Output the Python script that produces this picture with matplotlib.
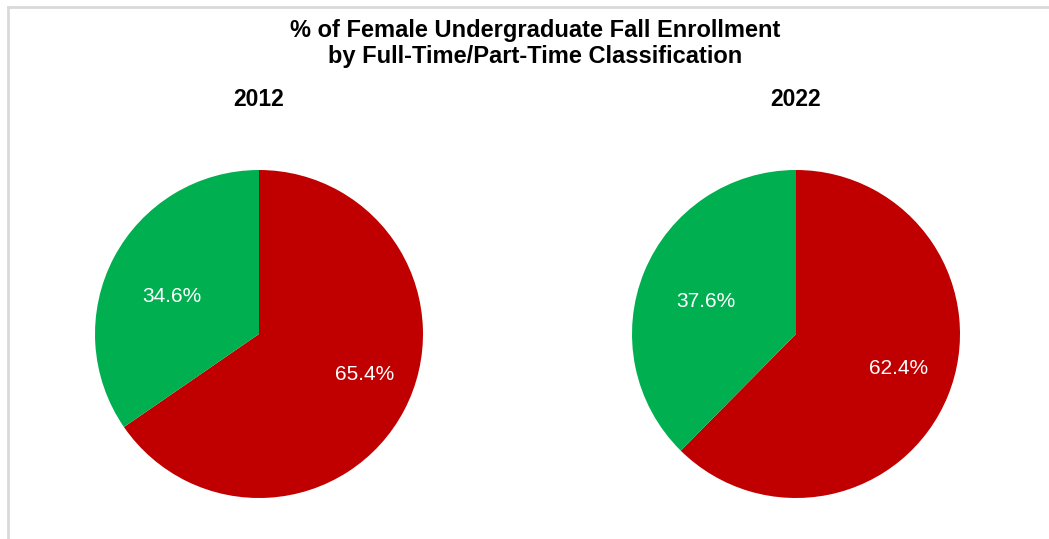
import matplotlib
matplotlib.use("Agg")
import matplotlib.pyplot as plt
from matplotlib.lines import Line2D

# data
years = ["2012", "2022"]
full_time = [65.4, 62.4]
part_time = [34.6, 37.6]
colors = ["#C00000", "#00B050"]

# label offsets (in pie radii) for full-time / part-time slices
label_pos = [
    [(0.646, -0.244), (-0.530, 0.226)],
    [(0.628, -0.213), (-0.549, 0.201)],
]

plt.rcParams["font.family"] = ["Liberation Sans", "DejaVu Sans"]

W, H = 1049, 539
fig = plt.figure(figsize=(W / 100, H / 100), dpi=100)

# light grey frame (top and left edges visible)
fig.add_artist(Line2D([7.5 / W, 7.5 / W], [0, 1 - 6.5 / H], color="#d9d9d9", lw=2,
                      transform=fig.transFigure))
fig.add_artist(Line2D([7.5 / W, 1], [1 - 6.5 / H, 1 - 6.5 / H], color="#d9d9d9", lw=2,
                      transform=fig.transFigure))

fig.text(535 / W, 1 - 30 / H, "% of Female Undergraduate Fall Enrollment",
         ha="center", va="center", fontsize=17, fontweight="bold")
fig.text(535 / W, 1 - 57 / H, "by Full-Time/Part-Time Classification",
         ha="center", va="center", fontsize=17, fontweight="bold")

centers = [259, 796]
r = 164
cy = 334
for i, year in enumerate(years):
    cx = centers[i]
    ax = fig.add_axes([(cx - r) / W, 1 - (cy + r) / H, 2 * r / W, 2 * r / H])
    vals = [full_time[i], part_time[i]]
    ax.pie(vals, colors=colors, startangle=90, counterclock=False, radius=1)
    ax.set_xlim(-1, 1)
    ax.set_ylim(-1, 1)
    ax.set_aspect("auto")
    ax.axis("off")
    for v, (lx, ly) in zip(vals, label_pos[i]):
        ax.text(lx, ly, f"{v:.1f}%", ha="center", va="center", color="white", fontsize=15)
    fig.text(cx / W, 1 - 99 / H, year, ha="center", va="center", fontsize=16.5,
             fontweight="bold")

fig.savefig("out.png", dpi=100)
